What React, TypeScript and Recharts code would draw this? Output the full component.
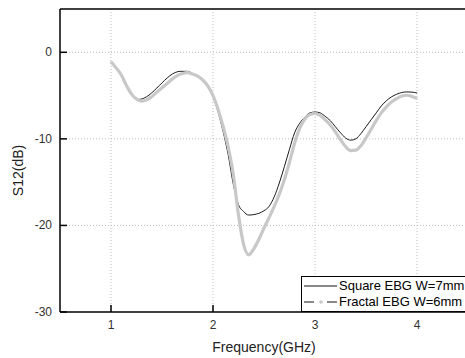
import React from "react";
import {
  LineChart,
  Line,
  XAxis,
  YAxis,
  CartesianGrid,
  ReferenceLine,
  Legend,
} from "recharts";

// Square EBG W=7mm (thin black)
const squareFreq = [
  1.0, 1.05, 1.1, 1.15, 1.2, 1.27, 1.68, 1.75, 1.8, 1.85, 1.9, 1.95, 2.0,
  2.05, 2.1, 2.15, 2.2, 2.25, 2.3, 2.35, 2.4, 2.45, 2.5, 2.55, 2.6, 2.65, 2.7,
  2.75, 2.8, 2.85, 2.9, 2.95, 3.0, 3.05, 3.1, 3.15, 3.2, 3.25, 3.3, 3.35, 3.4,
  3.45, 3.5, 3.55, 3.6, 3.65, 3.7, 3.75, 3.8, 3.85, 3.9, 3.95, 4.0,
];
const squareDb = [
  -1.1, -1.8, -2.6, -3.8, -4.8, -5.45, -2.2, -2.2, -2.45, -2.75, -3.2, -3.9,
  -5.0, -6.9, -9.2, -11.9, -15.3, -17.6, -18.4, -18.8, -18.75, -18.6, -18.3,
  -17.8, -16.7, -15.1, -13.2, -11.2, -9.3, -8.2, -7.5, -7.0, -6.9, -7.0, -7.4,
  -7.9, -8.6, -9.3, -9.9, -10.15, -10.0, -9.4, -8.6, -7.8, -7.0, -6.2, -5.6,
  -5.15, -4.85, -4.65, -4.58, -4.6, -4.7,
];

// Fractal EBG W=6mm (thick light grey)
const fractalFreq = [
  1.0, 1.05, 1.1, 1.15, 1.2, 1.25, 1.3, 1.35, 1.4, 1.45, 1.5, 1.55, 1.6, 1.65,
  1.7, 1.75, 1.8, 1.85, 1.9, 1.95, 2.0, 2.05, 2.1, 2.15, 2.2, 2.25, 2.3, 2.35,
  2.4, 2.45, 2.5, 2.55, 2.6, 2.65, 2.7, 2.75, 2.8, 2.85, 2.9, 2.95, 3.0, 3.05,
  3.1, 3.15, 3.2, 3.25, 3.3, 3.35, 3.4, 3.45, 3.5, 3.55, 3.6, 3.65, 3.7, 3.75,
  3.8, 3.85, 3.9, 3.95, 4.0,
];
const fractalDb = [
  -1.1, -1.8, -2.6, -3.8, -4.8, -5.4, -5.65, -5.5, -5.1, -4.6, -4.1, -3.6,
  -3.1, -2.7, -2.45, -2.35, -2.5, -2.75, -3.2, -3.9, -5.0, -6.6, -8.6, -11.0,
  -14.2, -18.8, -22.2, -23.4, -22.7, -21.6, -20.3, -19.1, -17.8, -16.4, -14.7,
  -12.7, -10.5, -8.8, -7.7, -7.2, -7.07, -7.3, -7.8, -8.4, -9.2, -10.1, -10.9,
  -11.35, -11.3, -10.8, -9.9, -8.9, -7.9, -7.0, -6.3, -5.75, -5.35, -5.05,
  -4.96, -5.1, -5.35,
];

const xTicks = [1, 2, 3, 4];
const yTicks = [0, -10, -20, -30];

const squareData = squareFreq.map((f, i) => ({ f, db: squareDb[i] }));
const fractalData = fractalFreq.map((f, i) => ({ f, db: fractalDb[i] }));

const FONT = '"Liberation Sans", Arial, sans-serif';

const XTick = (props: any) => {
  const { x, y, payload } = props;
  return (
    <g>
      <line x1={x} x2={x} y1={y - 7} y2={y} stroke="#000" strokeWidth={1.5} />
      <text x={x} y={y + 17} textAnchor="middle" fontSize={12} fill="#333" fontFamily={FONT}>
        {payload.value}
      </text>
    </g>
  );
};

const YTick = (props: any) => {
  const { x, y, payload } = props;
  return (
    <g>
      <line x1={x} x2={x + 7} y1={y} y2={y} stroke="#000" strokeWidth={1.5} />
      <text x={x - 8} y={y + 4} textAnchor="end" fontSize={12} fill="#333" fontFamily={FONT}>
        {payload.value}
      </text>
    </g>
  );
};

const LegendBox = () => (
  <div
    style={{
      border: "1px solid #000",
      background: "#fff",
      fontFamily: FONT,
      fontSize: 13,
      color: "#000",
      padding: "1px 0 1px 1px",
      lineHeight: "16px",
      whiteSpace: "nowrap",
      boxSizing: "border-box",
      height: 36,
    }}
  >
    <div style={{ display: "flex", alignItems: "center" }}>
      <svg width={35} height={16}>
        <line x1={1} x2={34} y1={8} y2={8} stroke="#111" strokeWidth={1} />
      </svg>
      <span style={{ marginLeft: 1 }}>Square EBG W=7mm</span>
    </div>
    <div style={{ display: "flex", alignItems: "center" }}>
      <svg width={35} height={16}>
        <line x1={1} x2={11} y1={8} y2={8} stroke="#111" strokeWidth={1} />
        <circle cx={18} cy={8} r={1.8} fill="#c8c8c8" />
        <line x1={24} x2={34} y1={8} y2={8} stroke="#111" strokeWidth={1} />
      </svg>
      <span style={{ marginLeft: 1 }}>Fractal EBG W=6mm</span>
    </div>
  </div>
);

export default function App() {
  return (
    <div
      style={{
        position: "absolute",
        left: 0,
        top: 0,
        width: 465,
        height: 358,
        overflow: "hidden",
        background: "#fff",
      }}
    >
      <LineChart width={470} height={358} margin={{ top: 9, right: 2, left: 0, bottom: 0 }}>
        <CartesianGrid
          stroke="#bdbdbd"
          strokeDasharray="1 2"
          horizontalValues={[0, -10, -20]}
          verticalValues={xTicks}
        />
        <XAxis
          type="number"
          dataKey="f"
          domain={[0.5, 4.5]}
          ticks={xTicks}
          allowDataOverflow
          height={46}
          tickSize={0}
          tickMargin={0}
          tickLine={false}
          axisLine={{ stroke: "#000", strokeWidth: 1.5 }}
          tick={<XTick />}
          label={{
            content: ({ viewBox }: any) => (
              <text
                x={viewBox.x + viewBox.width / 2}
                y={viewBox.y + 40}
                textAnchor="middle"
                fontSize={14}
                fill="#222"
                fontFamily={FONT}
              >
                Frequency(GHz)
              </text>
            ),
          }}
        />
        <YAxis
          type="number"
          dataKey="db"
          domain={[-30, 5]}
          ticks={yTicks}
          allowDataOverflow
          width={60}
          tickSize={0}
          tickMargin={0}
          tickLine={false}
          axisLine={{ stroke: "#000", strokeWidth: 1.5 }}
          tick={<YTick />}
          label={{
            content: ({ viewBox }: any) => {
              const cx = viewBox.x + 18;
              const cy = viewBox.y + viewBox.height / 2 + 10;
              return (
                <text
                  x={cx}
                  y={cy}
                  transform={`rotate(-90 ${cx} ${cy})`}
                  textAnchor="middle"
                  dominantBaseline="central"
                  fontSize={14}
                  fill="#222"
                  fontFamily={FONT}
                >
                  S12(dB)
                </text>
              );
            },
          }}
        />
        <ReferenceLine y={5} stroke="#000" strokeWidth={1.5} ifOverflow="visible" />
        <Line
          data={squareData}
          dataKey="db"
          type="monotone"
          stroke="#1a1a1a"
          strokeWidth={1}
          dot={false}
          name="Square EBG W=7mm"
          isAnimationActive={false}
        />
        <Line
          data={fractalData}
          dataKey="db"
          type="monotone"
          stroke="#c8c8c8"
          strokeWidth={3.2}
          dot={false}
          name="Fractal EBG W=6mm"
          isAnimationActive={false}
        />
        <Legend
          layout="vertical"
          verticalAlign="middle"
          align="center"
          content={<LegendBox />}
          wrapperStyle={{ left: 301, top: 276, width: 170, height: 36 }}
        />
      </LineChart>
    </div>
  );
}
